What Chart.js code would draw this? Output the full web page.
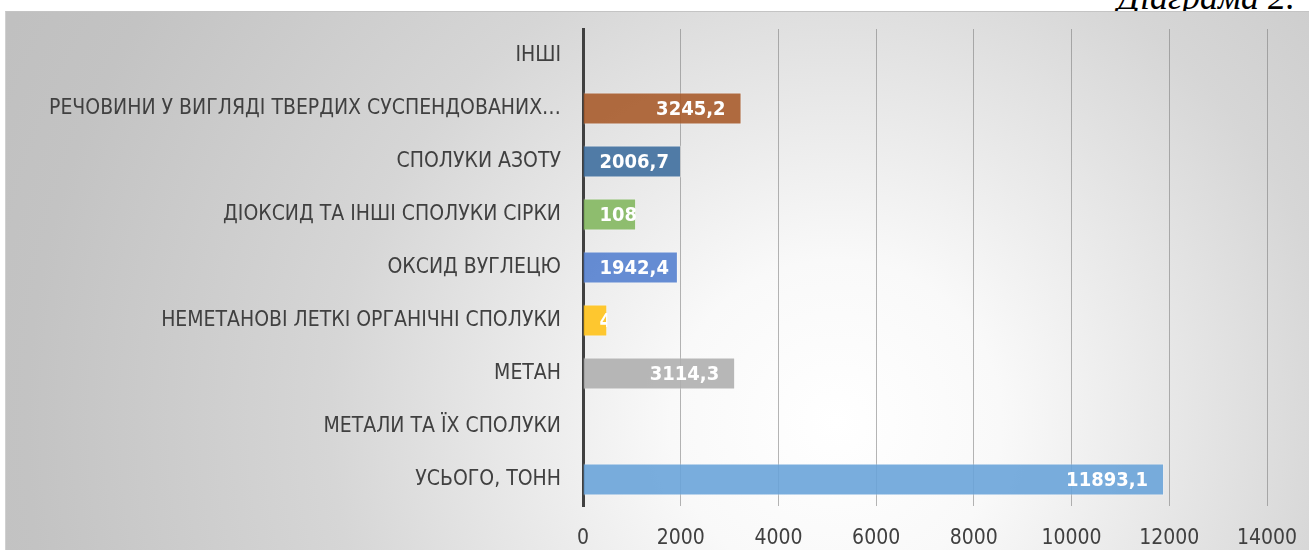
<!DOCTYPE html>
<html>
<head>
<meta charset="utf-8">
<script src="https://cdn.jsdelivr.net/npm/chart.js@4.4.1/dist/chart.umd.min.js"></script>
<style>
  html, body { margin: 0; padding: 0; background: #fff; overflow: hidden; }
  body { width: 1309px; height: 550px; position: relative; }
  #caption {
    position: absolute; right: 14px; top: -21px;
    font: italic 36px 'Liberation Serif', 'DejaVu Serif', serif;
    line-height: 36px; color: #000; white-space: nowrap;
  }
  #box {
    position: absolute; left: 5px; top: 11px; width: 1310px; height: 545px;
    border-top: 1px solid #c4c4c4; border-left: 1px solid #d0d0d0;
    background: radial-gradient(ellipse 920px 900px at 830px 410px, #ffffff 0%, #f9f9f9 18%, #d6d6d6 55%, #c3c3c3 88%, #c0c0c0 100%);
  }
  #wrap { position: absolute; left: 0; top: 0; width: 1302px; height: 538px; }
</style>
</head>
<body>
<div id="caption">Діаграма 2.</div>
<div id="box">
  <div id="wrap"><canvas id="chart"></canvas></div>
</div>
<script>
// ======================================
// Дані (зчитано з діаграми)
// ======================================
const categories = [
  'ІНШІ',
  'РЕЧОВИНИ У ВИГЛЯДІ ТВЕРДИХ СУСПЕНДОВАНИХ…',
  'СПОЛУКИ АЗОТУ',
  'ДІОКСИД ТА ІНШІ СПОЛУКИ СІРКИ',
  'ОКСИД ВУГЛЕЦЮ',
  'НЕМЕТАНОВІ ЛЕТКІ ОРГАНІЧНІ СПОЛУКИ',
  'МЕТАН',
  'МЕТАЛИ ТА ЇХ СПОЛУКИ',
  'УСЬОГО, ТОНН'
];
const values = [0, 3245.2, 2006.7, 1087.3, 1942.4, 497.2, 3114.3, 0, 11893.1];
const barColors = [
  '#8c8c8c', '#a95c2c', '#3f6f9f', '#84b860', '#5581cf',
  '#ffc21a', '#afafaf', '#8c8c8c', '#6aa4d9'
];
const xTicks = [0, 2000, 4000, 6000, 8000, 10000, 12000, 14000];

const FONT = "'Liberation Sans Narrow', 'DejaVu Sans Condensed', 'Open Sans', sans-serif";

// ======================================
// Підписи даних всередині стовпчиків (обрізані межами стовпчика)
// ======================================
const barLabels = {
  id: 'barLabels',
  afterDatasetsDraw(chart) {
    const ctx = chart.ctx;
    const meta = chart.getDatasetMeta(0);
    ctx.save();
    ctx.font = 'bold 20px ' + FONT;
    ctx.fillStyle = '#ffffff';
    ctx.textBaseline = 'middle';
    meta.data.forEach((bar, i) => {
      if (!values[i]) return;
      const txt = values[i].toFixed(1).replace('.', ',');
      const w = ctx.measureText(txt).width;
      let x = bar.x - 16 - w;
      if (x < bar.base + 16) x = bar.base + 16;
      ctx.save();
      ctx.beginPath();
      ctx.rect(bar.base, bar.y - bar.height / 2, bar.x - bar.base, bar.height);
      ctx.clip();
      ctx.textAlign = 'left';
      ctx.fillText(txt, x, bar.y + 1);
      ctx.restore();
    });
    ctx.restore();
  }
};

const chart = new Chart(document.getElementById('chart'), {
  type: 'bar',
  data: {
    labels: categories,
    datasets: [{
      data: values,
      backgroundColor: barColors.map(c => c + 'e6'),
      borderColor: 'rgba(255,255,255,0.35)',
      borderWidth: 1,
      barPercentage: 1,
      categoryPercentage: 0.6
    }]
  },
  options: {
    indexAxis: 'y',
    responsive: true,
    maintainAspectRatio: false,
    animation: false,
    layout: { padding: { top: 17, right: 41, left: 0, bottom: 0 } },
    plugins: { legend: { display: false }, tooltip: { enabled: false } },
    scales: {
      x: {
        min: 0, max: 14000,
        afterBuildTicks: (s) => { s.ticks = xTicks.map(v => ({ value: v })); },
        afterFit: (s) => { s.height = 44; s.paddingLeft = 0; s.paddingRight = 0; },
        grid: { color: 'rgba(120,120,120,0.55)', lineWidth: 1, drawTicks: false },
        border: { display: false },
        ticks: {
          color: '#404040', padding: 20, maxRotation: 0,
          font: { family: FONT, size: 21 },
          callback: (v) => String(v)
        }
      },
      y: {
        afterFit: (s) => { s.width = 577; s.paddingTop = 0; s.paddingBottom = 0; },
        grid: { display: false, drawTicks: false },
        border: { color: '#404040', width: 3 },
        ticks: { color: '#404040', padding: 22, autoSkip: false, font: { family: FONT, size: 21 } }
      }
    }
  },
  plugins: [barLabels]
});
</script>
</body>
</html>
